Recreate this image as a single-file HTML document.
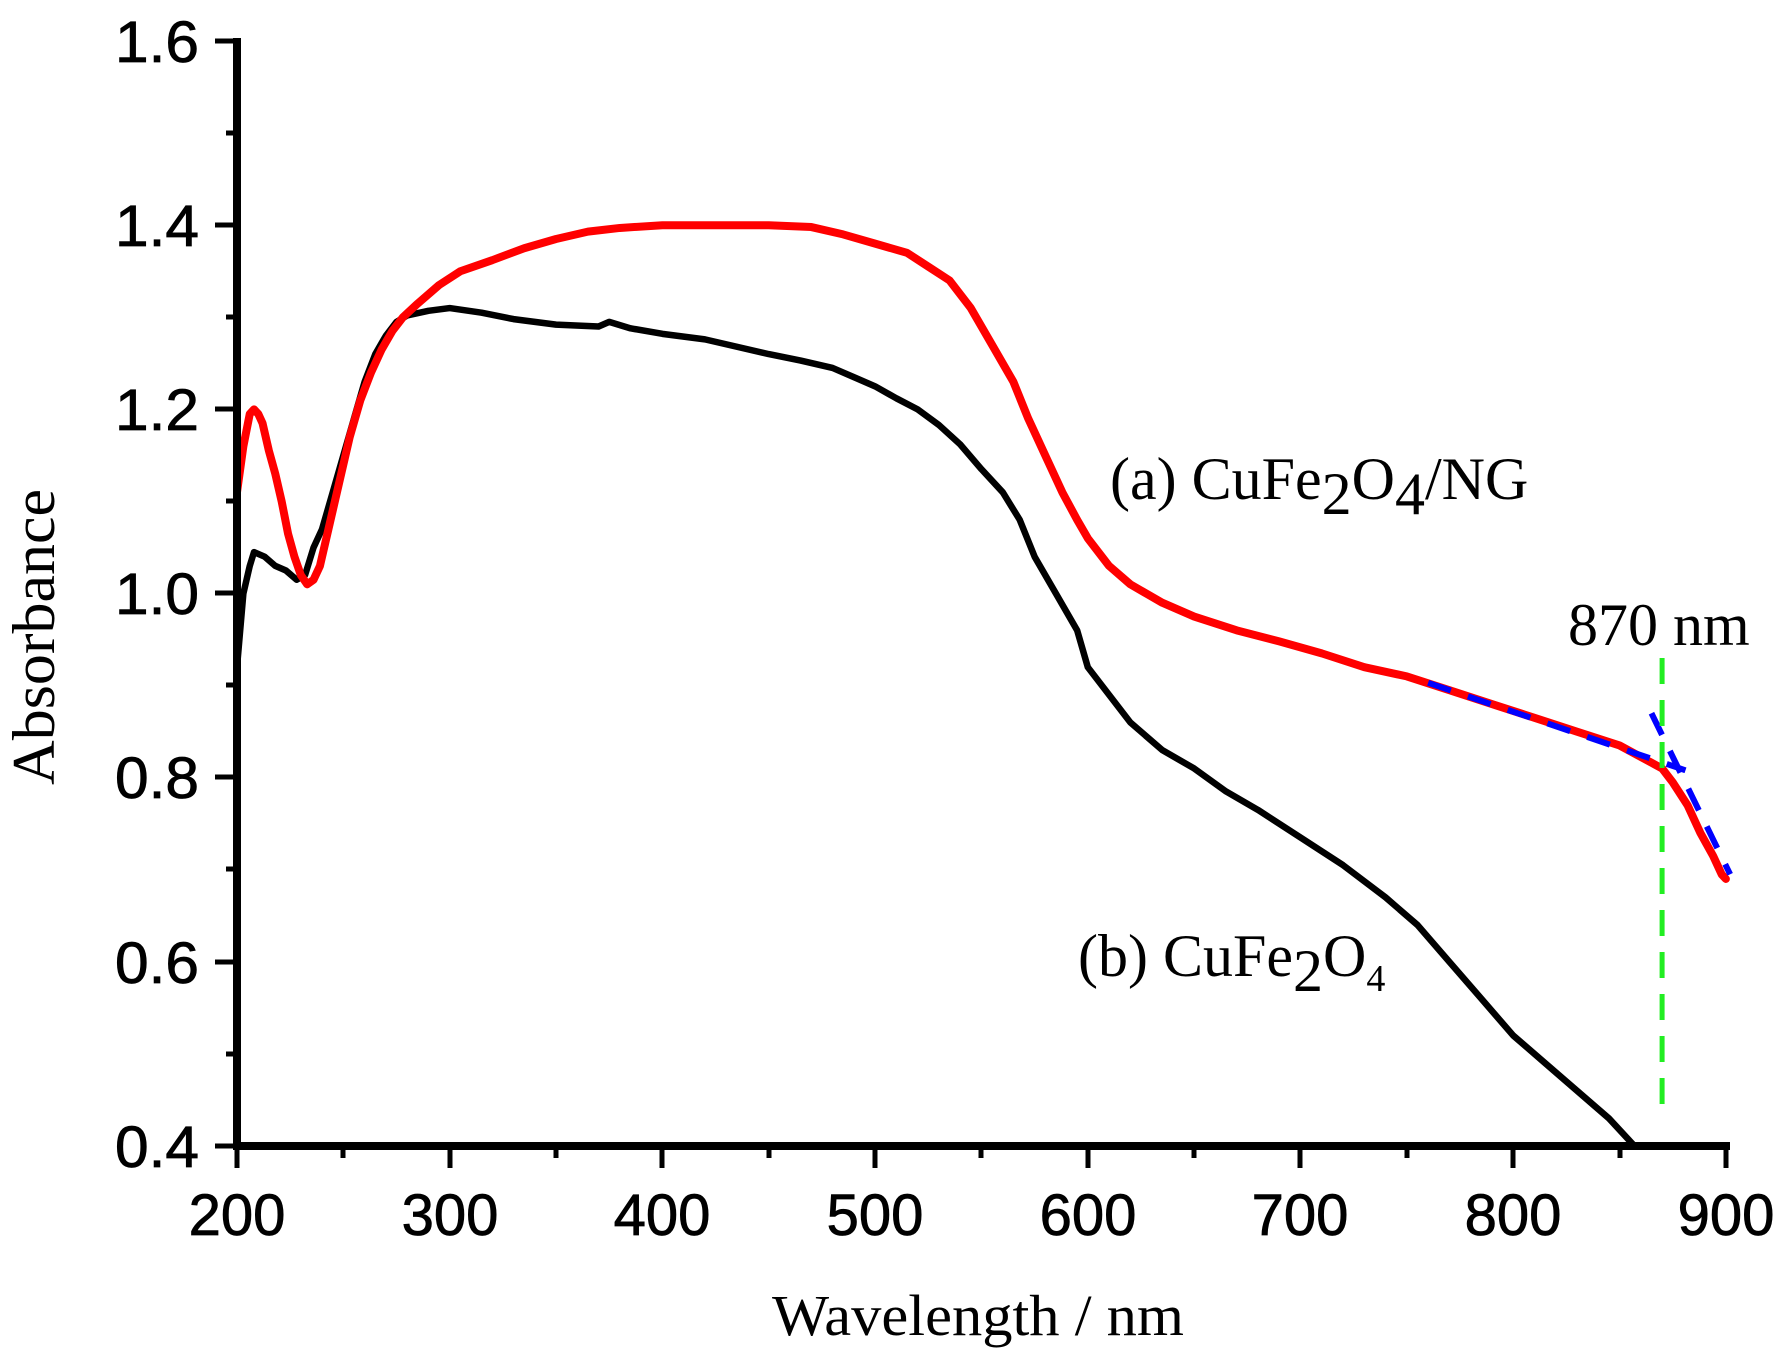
<!DOCTYPE html>
<html><head><meta charset="utf-8"><style>html,body{margin:0;padding:0;background:#fff}svg{display:block}</style></head>
<body>
<svg width="1783" height="1357" viewBox="0 0 1783 1357" xmlns="http://www.w3.org/2000/svg">
<rect width="1783" height="1357" fill="#fff"/>
<g transform="translate(237,1146) scale(2.127,-920.8)" fill="none" stroke-linejoin="round" stroke-linecap="round">
<polyline vector-effect="non-scaling-stroke" stroke="#000" stroke-width="6.5" points="0,0.52 3,0.6 6,0.63 8,0.645 13,0.64 18,0.63 23,0.625 28,0.615 32,0.62 36,0.65 40,0.67 45,0.71 50,0.75 55,0.79 60,0.83 65,0.86 70,0.88 75,0.895 80,0.902 90,0.907 100,0.91 115,0.905 130,0.898 150,0.892 170,0.89 175,0.895 185,0.888 200,0.882 220,0.876 235,0.868 250,0.86 265,0.853 280,0.845 290,0.835 300,0.825 310,0.812 320,0.8 330,0.783 340,0.762 350,0.735 360,0.71 368,0.68 375,0.64 385,0.6 395,0.56 400,0.52 410,0.49 420,0.46 435,0.43 450,0.41 465,0.385 480,0.365 500,0.335 520,0.305 540,0.27 555,0.24 570,0.2 585,0.16 600,0.12 615,0.09 630,0.06 645,0.03 657,0.0"/>
<polyline vector-effect="non-scaling-stroke" stroke="#f00" stroke-width="8" points="0,0.71 3,0.76 6,0.795 8,0.8 10,0.795 12,0.785 15,0.755 18,0.73 21,0.7 24,0.665 27,0.64 30,0.62 33,0.61 36,0.615 39,0.63 43,0.67 48,0.72 53,0.77 58,0.81 63,0.84 68,0.865 73,0.885 78,0.9 85,0.915 95,0.935 105,0.95 120,0.962 135,0.975 150,0.985 165,0.993 180,0.997 200,1.0 220,1.0 250,1.0 270,0.998 285,0.99 300,0.98 315,0.97 325,0.955 335,0.94 345,0.91 355,0.87 365,0.83 372,0.79 380,0.75 388,0.71 395,0.68 400,0.66 410,0.63 420,0.61 435,0.59 450,0.575 470,0.56 490,0.548 510,0.535 530,0.52 550,0.51 570,0.495 590,0.48 610,0.465 630,0.45 650,0.435 662,0.42 670,0.41 675,0.395 682,0.37 688,0.34 694,0.315 698,0.295 700,0.29"/>
<polyline vector-effect="non-scaling-stroke" stroke="#0000ff" stroke-width="6" stroke-dasharray="24,18" stroke-linecap="butt" points="560,0.503 681,0.408"/>
<polyline vector-effect="non-scaling-stroke" stroke="#0000ff" stroke-width="6" stroke-dasharray="24,18" stroke-linecap="butt" points="665,0.47 702,0.295"/>
<polyline vector-effect="non-scaling-stroke" stroke="#22ee22" stroke-width="5" stroke-dasharray="26,16" stroke-linecap="butt" points="670,0.53 670,0.04"/>
</g>
<g stroke="#000" fill="none" stroke-linecap="butt">
<line x1="237" y1="38" x2="237" y2="1150" stroke-width="8"/>
<line x1="233" y1="1146" x2="1730" y2="1146" stroke-width="8"/>
<g stroke-width="5">
<line x1="215" y1="41" x2="237" y2="41"/><line x1="215" y1="225" x2="237" y2="225"/><line x1="215" y1="409" x2="237" y2="409"/><line x1="215" y1="593" x2="237" y2="593"/><line x1="215" y1="777" x2="237" y2="777"/><line x1="215" y1="962" x2="237" y2="962"/><line x1="215" y1="1146" x2="237" y2="1146"/>
<line x1="226" y1="133" x2="237" y2="133"/><line x1="226" y1="317" x2="237" y2="317"/><line x1="226" y1="501" x2="237" y2="501"/><line x1="226" y1="685" x2="237" y2="685"/><line x1="226" y1="869" x2="237" y2="869"/><line x1="226" y1="1054" x2="237" y2="1054"/>
<line x1="237" y1="1146" x2="237" y2="1168"/><line x1="450" y1="1146" x2="450" y2="1168"/><line x1="662" y1="1146" x2="662" y2="1168"/><line x1="875" y1="1146" x2="875" y2="1168"/><line x1="1088" y1="1146" x2="1088" y2="1168"/><line x1="1300" y1="1146" x2="1300" y2="1168"/><line x1="1513" y1="1146" x2="1513" y2="1168"/><line x1="1726" y1="1146" x2="1726" y2="1168"/>
<line x1="343" y1="1146" x2="343" y2="1158"/><line x1="556" y1="1146" x2="556" y2="1158"/><line x1="769" y1="1146" x2="769" y2="1158"/><line x1="981" y1="1146" x2="981" y2="1158"/><line x1="1194" y1="1146" x2="1194" y2="1158"/><line x1="1407" y1="1146" x2="1407" y2="1158"/><line x1="1620" y1="1146" x2="1620" y2="1158"/>
</g></g>
<g font-family="Liberation Sans, sans-serif" font-size="58" fill="#000" text-anchor="end" stroke="#000" stroke-width="0.8">
<text x="199" y="62" textLength="84" lengthAdjust="spacingAndGlyphs">1.6</text>
<text x="199" y="246" textLength="84" lengthAdjust="spacingAndGlyphs">1.4</text>
<text x="199" y="430" textLength="84" lengthAdjust="spacingAndGlyphs">1.2</text>
<text x="199" y="614" textLength="84" lengthAdjust="spacingAndGlyphs">1.0</text>
<text x="199" y="798" textLength="84" lengthAdjust="spacingAndGlyphs">0.8</text>
<text x="199" y="983" textLength="84" lengthAdjust="spacingAndGlyphs">0.6</text>
<text x="199" y="1167" textLength="84" lengthAdjust="spacingAndGlyphs">0.4</text>
</g>
<g font-family="Liberation Sans, sans-serif" font-size="58" fill="#000" text-anchor="middle" stroke="#000" stroke-width="0.8">
<text x="237" y="1235">200</text><text x="450" y="1235">300</text><text x="662" y="1235">400</text><text x="875" y="1235">500</text><text x="1088" y="1235">600</text><text x="1300" y="1235">700</text><text x="1513" y="1235">800</text><text x="1726" y="1235">900</text>
</g>
<g font-family="Liberation Serif, serif" fill="#000">
<text x="978" y="1335" font-size="58" text-anchor="middle" textLength="412" lengthAdjust="spacingAndGlyphs">Wavelength / nm</text>
<text transform="translate(54,637) rotate(-90)" font-size="60" text-anchor="middle" textLength="296" lengthAdjust="spacingAndGlyphs">Absorbance</text>
<text x="1110" y="499" font-size="60">(a) CuFe<tspan dy="15">2</tspan><tspan dy="-15">O</tspan><tspan dy="15">4</tspan><tspan dy="-15">/NG</tspan></text>
<text x="1078" y="976" font-size="60">(b) CuFe<tspan dy="15">2</tspan><tspan dy="-15">O</tspan><tspan font-size="38" dy="15">4</tspan></text>
<text x="1568" y="645" font-size="60">870 nm</text>
</g>
</svg>
</body></html>
